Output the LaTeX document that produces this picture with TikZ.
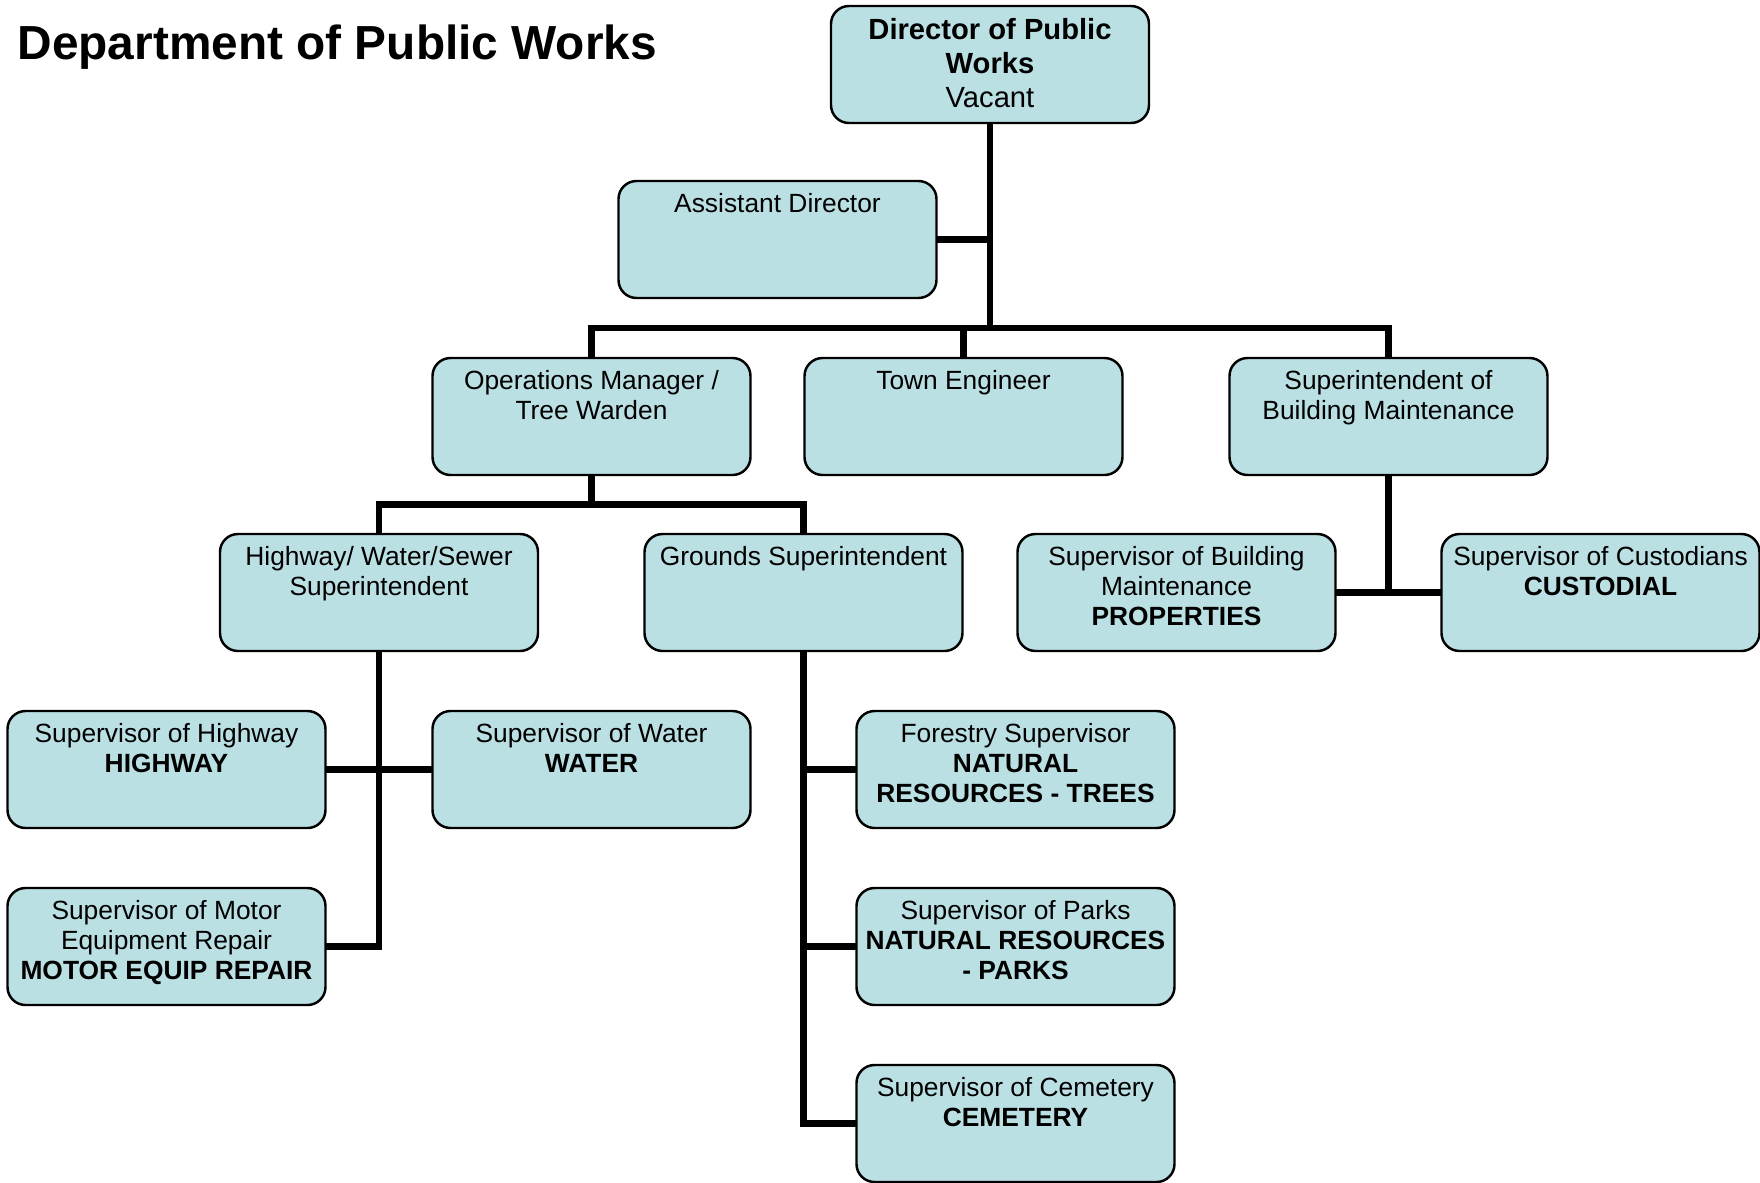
\documentclass[tikz,border=0pt]{standalone}
\usepackage{fontspec}
\setmainfont{Liberation Sans}
\usetikzlibrary{positioning,calc}

\definecolor{boxblue}{RGB}{187,224,227}
\newcommand{\boxtext}[1]{\parbox[c][1.17cm][t]{3.16cm}{\centering\vspace{0.1cm}\strut #1}}

\begin{document}
\begin{tikzpicture}[
  node distance=0.59cm,
  orgbox/.style={rectangle, rounded corners=0.18cm, draw=black, line width=0.7pt, fill=boxblue, minimum width=3.18cm, minimum height=1.17cm, inner sep=0pt, outer sep=0pt, font=\fontsize{7.5}{8.6}\selectfont},
  topbox/.style={orgbox, font=\fontsize{8.3}{9.6}\selectfont},
  connector/.style={line width=1.9pt},
  titlenode/.style={anchor=base west, inner sep=0pt, font=\fontsize{13.6}{16}\selectfont\bfseries}
]
\useasboundingbox (0,0) rectangle (17.6,-11.83);

%Nodes
\node[titlenode] (title) at (0.17,-0.595) {Department of Public Works};
\node[topbox] (dir) at (9.90,-0.645) {\boxtext{\textbf{Director of Public}\\ \textbf{Works}\\ Vacant}};
\node[orgbox, below=0.58cm of dir, xshift=-2.125cm] (asst) {\boxtext{Assistant Director}};

\node[orgbox, below=2.35cm of dir, xshift=-0.265cm] (town) {\boxtext{Town Engineer}};
\node[orgbox, left=0.54cm of town] (ops) {\boxtext{Operations Manager /\\ Tree Warden}};
\node[orgbox, right=1.07cm of town] (bldg) {\boxtext{Superintendent of\\ Building Maintenance}};

\node[orgbox, below=of ops, xshift=-2.125cm] (hws) {\boxtext{Highway/ Water/Sewer\\ Superintendent}};
\node[orgbox, below=of ops, xshift=2.12cm] (grnd) {\boxtext{Grounds Superintendent}};
\node[orgbox, below=of bldg, xshift=-2.12cm] (bmaint) {\boxtext{Supervisor of Building\\ Maintenance\\ \textbf{PROPERTIES}}};
\node[orgbox, below=of bldg, xshift=2.12cm] (cust) {\boxtext{Supervisor of Custodians\\ \textbf{CUSTODIAL}}};

%Supervisors
\node[orgbox, below=0.6cm of hws, xshift=-2.125cm] (hwy) {\boxtext{Supervisor of Highway\\ \textbf{HIGHWAY}}};
\node[orgbox, below=0.6cm of hws, xshift=2.125cm] (water) {\boxtext{Supervisor of Water\\ \textbf{WATER}}};
\node[orgbox, below=0.6cm of hwy] (motor) {\boxtext{Supervisor of Motor\\ Equipment Repair\\ \textbf{MOTOR EQUIP REPAIR}}};

\node[orgbox, below=0.6cm of grnd, xshift=2.12cm] (forest) {\boxtext{Forestry Supervisor\\ \textbf{NATURAL}\\ \textbf{RESOURCES - TREES}}};
\node[orgbox, below=0.6cm of forest] (parks) {\boxtext{Supervisor of Parks\\ \textbf{NATURAL RESOURCES}\\ \textbf{- PARKS}}};
\node[orgbox, below=0.6cm of parks] (cem) {\boxtext{Supervisor of Cemetery\\ \textbf{CEMETERY}}};

%Connectors
\coordinate (bus) at ($(town.north)+(0,0.3)$);
\draw[connector] (dir.south) -- (dir.south |- bus);
\draw[connector] (asst.east) -- (asst.east -| dir.south);
\draw[connector] (ops.north) |- (bldg.north |- bus) -- (bldg.north);
\draw[connector] (town.north) -- (town.north |- bus);

\coordinate (opsbus) at ($(ops.south)!0.5!(ops.south |- hws.north)$);
\draw[connector] (ops.south) -- (opsbus);
\draw[connector] (hws.north) |- (opsbus) -| (grnd.north);

\draw[connector] (bldg.south) |- (bmaint.east);
\draw[connector] (bmaint.east) -- (cust.west);

\draw[connector] (hws.south) |- (motor.east);
\draw[connector] (hwy.east) -- (water.west);

\draw[connector] (grnd.south) |- (cem.west);
\draw[connector] (forest.west) -- (forest.west -| grnd.south);
\draw[connector] (parks.west) -- (parks.west -| grnd.south);

\end{tikzpicture}
\end{document}
